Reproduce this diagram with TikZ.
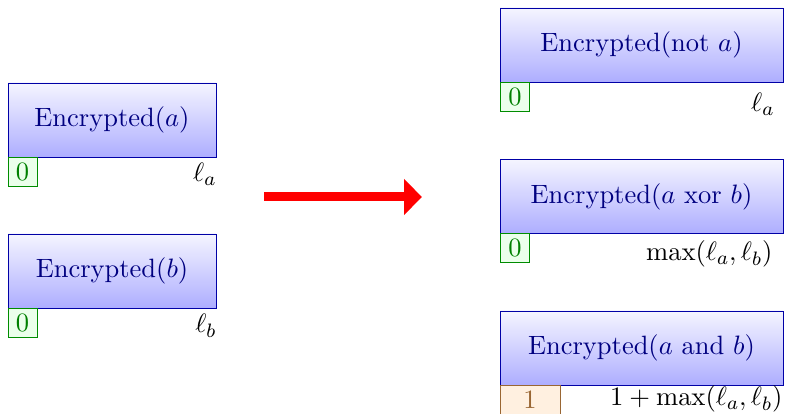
\documentclass[tikz,border=0pt]{standalone}
\usetikzlibrary{arrows.meta}
\def\px{0.4115pt}
\tikzset{
  encbox/.style={draw=blue!65!black, top color=blue!4, bottom color=blue!32, text=blue!50!black,
    minimum height=74*\px, inner sep=0pt},
  leftbox/.style={encbox, minimum width=208*\px},
  rightbox/.style={encbox, minimum width=283*\px},
  zerobox/.style={draw=green!55!black, fill=green!8, text=green!50!black, minimum width=29*\px, minimum height=29*\px, inner sep=0pt},
  onebox/.style={draw=brown!80!black, fill=orange!12, text=brown!80!black, minimum width=60*\px, minimum height=30*\px, inner sep=0pt},
  lvl/.style={anchor=base east, inner sep=0pt},
  bigarrow/.style={draw=red, line width=9*\px, -{Triangle[length=18*\px, width=35*\px]}}
}
\begin{document}
\begin{tikzpicture}[x=\px, y=-\px, font=\fontsize{10.9}{13}\selectfont]
\useasboundingbox (0,0) rectangle (785,414);
% left
\node[leftbox] (a) at (112,120) {Encrypted($a$)};
\node[zerobox] (a0) at (22.5,172) {0};
\node[lvl] (la) at (217,182) {$\ell_a$};
\node[leftbox] (b) at (112,271) {Encrypted($b$)};
\node[zerobox] (b0) at (22.5,323) {0};
\node[lvl] (lb) at (217,333) {$\ell_b$};
% arrow
\coordinate (s) at (264,197);
\coordinate (e) at (422,197);
\draw[bigarrow] (s) -- (e);
% right
\node[rightbox] (n) at (641.5,45) {Encrypted(not $a$)};
\node[zerobox] (n0) at (515,97) {0};
\node[lvl] (ln) at (775,112) {$\ell_a$};
\node[rightbox] (x) at (641.5,196.5) {Encrypted($a$ xor $b$)};
\node[zerobox] (x0) at (515,248) {0};
\node[lvl] (lx) at (773,261) {$\max(\ell_a,\ell_b)$};
\node[rightbox] (y) at (641.5,348) {Encrypted($a$ and $b$)};
\node[onebox] (y1) at (530,400) {1};
\node[lvl] (ly) at (783,406) {$1+\max(\ell_a,\ell_b)$};
\end{tikzpicture}
\end{document}
